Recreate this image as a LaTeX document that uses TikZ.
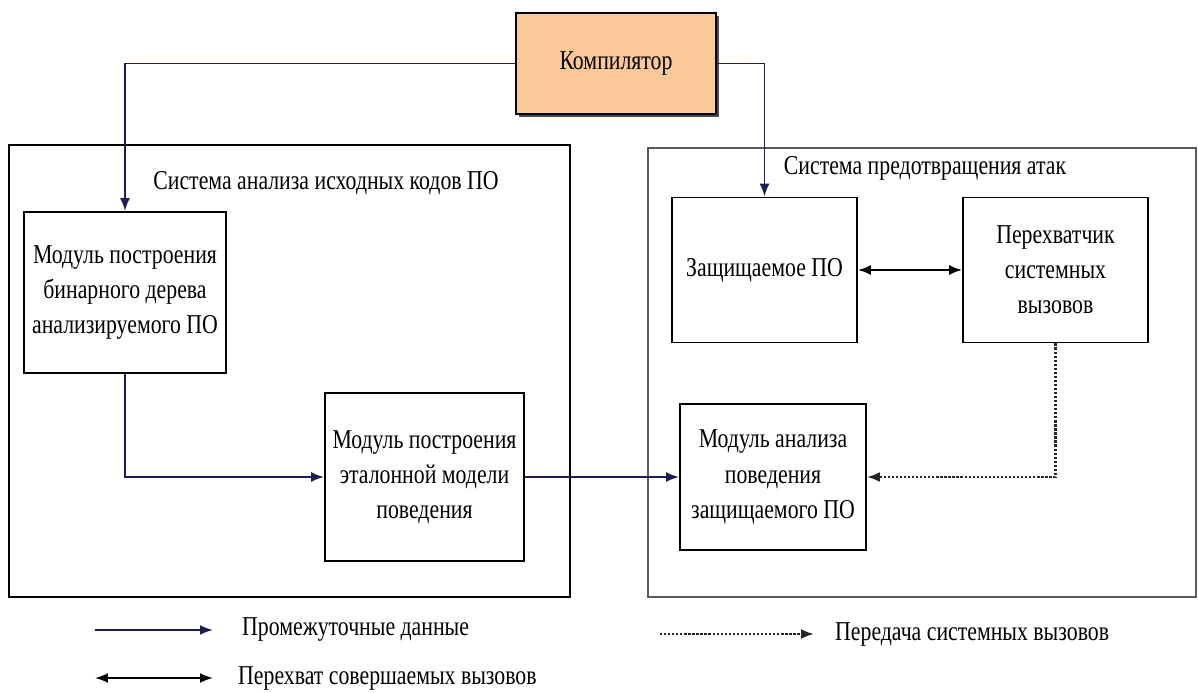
\documentclass[tikz,border=0pt]{standalone}
\usepackage{fontspec}
\setmainfont[FakeStretch=0.8]{Liberation Serif}
\usepackage{tikz}
\usetikzlibrary{arrows.meta,calc,positioning}
\definecolor{CompFill}{HTML}{FBC997}
\definecolor{DataNavy}{HTML}{1E1E55}
\definecolor{FrameGrey}{HTML}{5A5A5A}

\begin{document}
\begin{tikzpicture}[
          x=0.02cm,y=-0.02cm,
          >={Latex[length=2.6mm,width=2mm]},
          every node/.style={font=\fontsize{15.5}{20}\selectfont},
          module/.style={draw,line width=1.1pt,fill=white,align=center,inner sep=2pt},
          system/.style={line width=1.1pt},
          data/.style={->,line width=1.1pt,draw=DataNavy},
          hook/.style={<->,line width=1.1pt,draw=black},
          calls/.style={->,line width=1.3pt,densely dotted,draw=black!85}
        ]
        \path[use as bounding box] (0,0) rectangle (1198,693);
        % two subsystems
        \draw[system,draw=black] (9,145) rectangle (570,597);
        \draw[system,draw=FrameGrey] (648,148) rectangle (1196,597);
        \node (srclabel) at (326,183) {Система анализа исходных кодов ПО};
        \node (ipslabel) at (925,168) {Система предотвращения атак};

        % compiler
        \fill[black!70] (519,16) rectangle (719,117);
        \node[module,fill=CompFill,minimum width=4cm,minimum height=2.02cm]
          (compiler) at (616,63.5) {Компилятор};

        % modules
        \node[module,minimum width=4.04cm,minimum height=3.22cm]
          (treemod) at (125,292.5) {Модуль построения\\бинарного дерева\\анализируемого ПО};
        \node[module,minimum width=3.98cm,minimum height=3.36cm]
          (refmod) at (424.5,477) {Модуль построения\\эталонной модели\\поведения};
        \node[module,minimum width=3.7cm,minimum height=2.9cm]
          (protected) at (764.5,270) {Защищаемое ПО};
        \node[module,minimum width=3.7cm,minimum height=2.9cm]
          (hooker) at (1055.5,270) {Перехватчик\\системных\\вызовов};
        \node[module,minimum width=3.72cm,minimum height=2.92cm]
          (analyzer) at (773,477) {Модуль анализа\\поведения\\защищаемого ПО};

        % connectors
        \draw[data] (compiler.west) -| (treemod.north);
        \draw[data] (compiler.east) -| (protected.north);
        \draw[data] (treemod.south) |- (refmod.west);
        \draw[data] (refmod.east) -- (analyzer.west);
        \draw[hook] (protected.east) -- (hooker.west);
        \draw[calls] (hooker.south) |- (analyzer.east);

        % legend
        \coordinate (legdata) at (95,630);
        \node[anchor=west] (legdatatxt) at (236,630) {Промежуточные данные};
        \draw[data] (legdata) -- ([xshift=-0.46cm]legdatatxt.west);
        \coordinate (leghook) at (95,678);
        \node[anchor=west] (leghooktxt) at (232,678) {Перехват совершаемых вызовов};
        \draw[hook] (leghook) -- ([xshift=-0.38cm]leghooktxt.west);
        \coordinate (legcalls) at (660,634);
        \node[anchor=west] (legcallstxt) at (829,634) {Передача системных вызовов};
        \draw[calls] (legcalls) -- ([xshift=-0.3cm]legcallstxt.west);
      \end{tikzpicture}
\end{document}
